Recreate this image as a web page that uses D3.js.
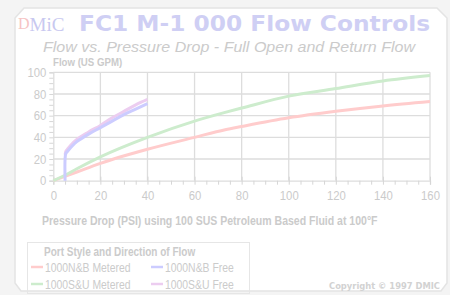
<!DOCTYPE html>
<html><head><meta charset="utf-8">
<script src="https://cdn.jsdelivr.net/npm/d3@7"></script>
<style>
html,body{margin:0;padding:0;background:#f4f4f4;}
svg{display:block;}
</style></head>
<body>
<script>
const xTicks = [0,20,40,60,80,100,120,140,160];
const yTicks = [0,20,40,60,80,100];
const seriesNames = ["1000N&B Metered","1000N&B Free","1000S&U Metered","1000S&U Free"];
const seriesColors = ["#ffcccc","#ccccff","#cdeccd","#eccdf0"];
const nbMeteredX = [0,10,20,40,60,73,80,100,120,140,160];
const nbMeteredY = [0,8,16,29,40,47,50,58,64,69,73];
const suMeteredX = [0,5,10,20,40,60,73,80,100,120,140,160];
const suMeteredY = [0,5,11,22,40,55,63,67,78,85,92,97];
const nbFreeX = [5,5,5.3,6,8,10,15,20,25,30,35,40];
const nbFreeY = [0,20,25,27,32,36,43,49,55,61,66,71];
const suFreeX = [5,5.3,6,8,10,15,20,25,30,35,40];
const suFreeY = [24,27,29,34,38,45,51,58,64,70,75];

const W=450,H=295;
const svg=d3.select("body").append("svg").attr("width",W).attr("height",H);
const narrow="'Liberation Sans Narrow','Arial Narrow','Liberation Sans',sans-serif";
const txt="#cbcbcb";

// panel
const panel=[[24,8],[437,8],[447,18],[447,283],[441,291],[21,291],[15,283],[15,18]];
svg.append("polygon").attr("points",panel.map(p=>p.join(",")).join(" "))
  .attr("fill","#fff").attr("stroke","#e4e4e4").attr("stroke-width",1.5);

const x=d3.scaleLinear().domain([0,160]).range([53.3,430]);
const y=d3.scaleLinear().domain([0,100]).range([180.7,72.3]);

// grid
const g=svg.append("g");
g.selectAll(".vx").data(xTicks.slice(1)).enter().append("line")
  .attr("x1",d=>x(d)).attr("x2",d=>x(d)).attr("y1",y(0)).attr("y2",y(100))
  .attr("stroke","#dddddd").attr("stroke-width",1.3);
g.selectAll(".hy").data(yTicks.slice(1)).enter().append("line")
  .attr("x1",x(0)).attr("x2",x(160)).attr("y1",d=>y(d)).attr("y2",d=>y(d))
  .attr("stroke","#dddddd").attr("stroke-width",1.3);

function squeezed(parent,px,py,str,size,sx,bold){
  return parent.append("text").attr("transform",`translate(${px},${py}) scale(${sx},1)`)
    .text(str).attr("fill",txt).attr("font-family","'Liberation Sans',Arial,sans-serif")
    .attr("font-size",size).attr("font-weight",bold?"bold":"normal");
}

// axes
const xAxis=d3.axisBottom(x).tickValues(d3.range(0,161,5)).tickSize(4).tickFormat(d=>xTicks.includes(d)?d:"");
const xa=svg.append("g").attr("transform",`translate(0,${y(0)})`).call(xAxis);
xa.select(".domain").attr("stroke","#dddddd").attr("stroke-width",1.3);
xa.selectAll(".tick line").attr("stroke","#d6d6d6");
xa.selectAll(".tick").filter(d=>xTicks.includes(d)).select("line").attr("y1",-4);
xa.selectAll("text").attr("fill",txt).attr("font-family",narrow).attr("font-size",13).attr("dy","0.95em")
  .each(function(d){ const n=String(d).length; if(d%20===0) d3.select(this).attr("textLength",n*6.3).attr("lengthAdjust","spacingAndGlyphs"); });

const yAxis=d3.axisLeft(y).tickValues(d3.range(0,101,5)).tickSize(4).tickFormat(d=>yTicks.includes(d)?d:"");
const ya=svg.append("g").attr("transform",`translate(${x(0)},0)`).call(yAxis);
ya.select(".domain").attr("stroke","#dddddd").attr("stroke-width",1.3);
ya.selectAll(".tick line").attr("stroke","#d6d6d6");
ya.selectAll("text").attr("fill",txt).attr("font-family",narrow).attr("font-size",13).attr("x",-7)
  .each(function(d){ const n=String(d).length; if(d%20===0) d3.select(this).attr("textLength",n*6.3).attr("lengthAdjust","spacingAndGlyphs"); });

// curves
const line=d3.line().x(d=>x(d[0])).y(d=>y(d[1])).curve(d3.curveMonotoneX);
const series=[
 {xs:nbMeteredX,ys:nbMeteredY,c:seriesColors[0],l:line},
 {xs:suMeteredX,ys:suMeteredY,c:seriesColors[2],l:line},
 {xs:suFreeX,ys:suFreeY,c:seriesColors[3],l:line},
 {xs:nbFreeX,ys:nbFreeY,c:seriesColors[1],l:d3.line().x(d=>x(d[0])).y(d=>y(d[1])).curve(d3.curveCatmullRom)},
];
series.forEach(s=>{
  svg.append("path").datum(s.xs.map((v,i)=>[v,s.ys[i]]))
   .attr("d",s.l).attr("fill","none").attr("stroke",s.c).attr("stroke-width",3).attr("stroke-linejoin","round");
});

// logo
const logo=svg.append("text").attr("x",18).attr("y",30).attr("font-family","'Liberation Serif',serif").attr("font-size",19);
logo.append("tspan").text("D").attr("fill","#f6c4c4").attr("dy",-1).attr("font-size",16);
logo.append("tspan").text("M").attr("fill","#c8c8f0").attr("dy",2);
logo.append("tspan").text("i").attr("fill","#c8c8f0");
logo.append("tspan").text("C").attr("fill","#c8c8f0");

svg.append("text").attr("x",79).attr("y",31).text("FC1 M-1 000 Flow Controls")
 .attr("fill","#cfcff4").attr("font-family","'DejaVu Sans',Verdana,sans-serif").attr("font-weight","bold")
 .attr("font-size",21).attr("textLength",351).attr("lengthAdjust","spacingAndGlyphs");
svg.append("text").attr("x",43).attr("y",52).text("Flow vs. Pressure Drop - Full Open and Return Flow")
 .attr("fill",txt).attr("font-family","'Liberation Sans',Arial,sans-serif").attr("font-style","italic")
 .attr("font-size",15).attr("textLength",372).attr("lengthAdjust","spacingAndGlyphs");
squeezed(svg,53,66,"Flow (US GPM)",11.5,0.84,true);
squeezed(svg,42,225,"Pressure Drop (PSI) using 100 SUS Petroleum Based Fluid at 100°F",13,0.81,true);

// legend
const lg=svg.append("g");
lg.append("rect").attr("x",27.5).attr("y",242.5).attr("width",222).attr("height",51).attr("fill","none").attr("stroke","#e6e6e6");
squeezed(lg,44,256,"Port Style and Direction of Flow",13,0.77,true);
const pos=[[31,267],[151,267],[31,284],[151,284]];
seriesNames.forEach((n,i)=>{
  const [px,py]=pos[i];
  lg.append("line").attr("x1",px).attr("x2",px+12).attr("y1",py).attr("y2",py).attr("stroke",seriesColors[i]).attr("stroke-width",2.5);
  squeezed(lg,px+14,py+4.5,n,13,0.8,false);
});
svg.append("text").attr("x",440).attr("y",289).attr("text-anchor","end").text("Copyright © 1997 DMIC")
 .attr("fill","#d2d2d2").attr("font-family","'DejaVu Sans Condensed','DejaVu Sans',sans-serif").attr("font-weight","bold").attr("font-size",9.5)
 .attr("textLength",111).attr("lengthAdjust","spacingAndGlyphs");
</script>
</body></html>
